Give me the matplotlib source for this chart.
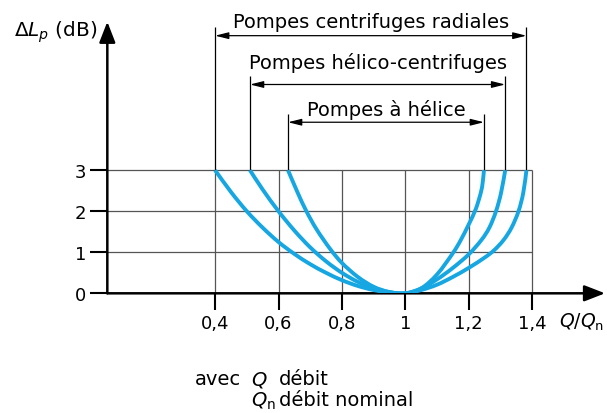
import matplotlib
matplotlib.use("Agg")
import matplotlib.pyplot as plt
from matplotlib.path import Path
from matplotlib.patches import PathPatch

plt.rcParams['font.family'] = ['DejaVu Sans']
plt.rcParams['mathtext.fontset'] = 'dejavusans'

# --- data (x = Q/Qn, y = delta Lp in dB) ---
radial_x = [0.40, 0.45, 0.50, 0.55, 0.60, 0.65, 0.70, 0.75, 0.80, 0.85, 0.90, 0.95, 1.00,
            1.05, 1.10, 1.15, 1.20, 1.25, 1.28, 1.31, 1.335, 1.357, 1.372, 1.382]
radial_y = [3.0, 2.47, 2.0, 1.6, 1.25, 0.96, 0.71, 0.50, 0.32, 0.18, 0.08, 0.02, 0.0,
            0.08, 0.21, 0.40, 0.62, 0.87, 1.05, 1.3, 1.6, 2.0, 2.45, 3.0]

helico_x = [0.51, 0.55, 0.60, 0.65, 0.70, 0.75, 0.80, 0.85, 0.90, 0.95, 1.00,
            1.05, 1.10, 1.15, 1.20, 1.24, 1.265, 1.286, 1.302, 1.315]
helico_y = [3.0, 2.53, 2.0, 1.53, 1.12, 0.78, 0.50, 0.28, 0.125, 0.03, 0.0,
            0.12, 0.34, 0.62, 0.95, 1.3, 1.6, 2.0, 2.45, 3.0]

helice_x = [0.63, 0.66, 0.688, 0.72, 0.763, 0.80, 0.85, 0.90, 0.95, 1.00,
            1.05, 1.10, 1.15, 1.175, 1.20, 1.222, 1.238, 1.244, 1.248]
helice_y = [3.0, 2.46, 2.0, 1.56, 1.08, 0.74, 0.40, 0.16, 0.03, 0.0,
            0.12, 0.46, 0.98, 1.3, 1.68, 2.05, 2.45, 2.7, 3.0]

curves = [(radial_x, radial_y), (helico_x, helico_y), (helice_x, helice_y)]
labels = ["Pompes centrifuges radiales", "Pompes hélico-centrifuges", "Pompes à hélice"]
arrow_y = [6.28, 5.09, 4.17]
label_y = [6.49, 5.50, 4.34]

xticks = [0.4, 0.6, 0.8, 1.0, 1.2, 1.4]
xtick_labels = ["0,4", "0,6", "0,8", "1", "1,2", "1,4"]
yticks = [0, 1, 2, 3]
ytick_labels = ["0", "1", "2", "3"]

blue = '#16a7e2'


def smooth_path(xs, ys):
    # Catmull-Rom style cubic Bezier through the read points
    pts = list(zip(xs, ys))
    n = len(pts)
    verts = [pts[0]]
    codes = [Path.MOVETO]
    for i in range(n - 1):
        p0 = pts[i - 1] if i > 0 else pts[i]
        p1 = pts[i]
        p2 = pts[i + 1]
        p3 = pts[i + 2] if i + 2 < n else pts[i + 1]
        c1 = (p1[0] + (p2[0] - p0[0]) / 6, p1[1] + (p2[1] - p0[1]) / 6)
        c2 = (p2[0] - (p3[0] - p1[0]) / 6, p2[1] - (p3[1] - p1[1]) / 6)
        verts += [c1, c2, p2]
        codes += [Path.CURVE4] * 3
    return Path(verts, codes)


fig = plt.figure(figsize=(6.07, 4.14), dpi=100)
ax = fig.add_axes([0.1768, 0.2891, 0.820, 0.656])
ax.set_xlim(0.06, 1.63)
ax.set_ylim(0, 6.62)
for s in ax.spines.values():
    s.set_visible(False)

# grid
ax.hlines([1, 2, 3], 0.06, 1.4, color='#555555', lw=0.9, zorder=1)
ax.vlines(xticks, 0, 3, color='#555555', lw=0.9, zorder=1)

# axes with arrows
for tip in [(1.0, 0), (0, 1.0)]:
    ax.annotate('', xy=tip, xytext=(0, 0), xycoords='axes fraction',
                arrowprops=dict(arrowstyle='-|>,head_length=0.9,head_width=0.35',
                                color='black', lw=1.8, mutation_scale=14,
                                shrinkA=0, shrinkB=0),
                annotation_clip=False)

ax.set_xticks(xticks)
ax.set_xticklabels(xtick_labels)
ax.set_yticks(yticks)
ax.set_yticklabels(ytick_labels)
ax.tick_params(axis='both', direction='out', length=12, width=1.5, labelsize=13, pad=3)

# curves
for cx, cy in curves:
    ax.add_patch(PathPatch(smooth_path(cx, cy), fill=False, edgecolor=blue,
                           lw=2.8, capstyle='butt', zorder=3))

# brackets
for (cx, cy), lab, ay, ly in zip(curves, labels, arrow_y, label_y):
    x0, x1 = cx[0], cx[-1]
    ax.vlines([x0, x1], 3, ay + 0.21, color='black', lw=0.9, zorder=2)
    ax.annotate('', xy=(x1, ay), xytext=(x0, ay),
                arrowprops=dict(arrowstyle='<|-|>,head_length=0.8,head_width=0.2',
                                color='black', lw=0.9, mutation_scale=10,
                                shrinkA=0, shrinkB=0))
    ax.text((x0 + x1) / 2, ly, lab, ha='center', va='baseline', fontsize=14,
            clip_on=False)

# axis labels
fig.text(97 / 607, 1 - 37 / 414, r'$\Delta\mathit{L}_\mathit{p}$ (dB)', ha='right',
         va='baseline', fontsize=14.5)
fig.text(559 / 607, 1 - 322 / 414, r'$\mathit{Q/Q}_\mathrm{n}$', ha='left', va='center',
         fontsize=13.5)

# footnote
fig.text(195 / 607, 1 - 380 / 414, 'avec', ha='left', va='center', fontsize=14)
fig.text(251 / 607, 1 - 380 / 414, r'$\mathit{Q}$', ha='left', va='center', fontsize=14)
fig.text(279 / 607, 1 - 380 / 414, 'débit', ha='left', va='center', fontsize=14)
fig.text(251 / 607, 1 - 401 / 414, r'$\mathit{Q}_\mathrm{n}$', ha='left', va='center',
         fontsize=14)
fig.text(279 / 607, 1 - 401 / 414, 'débit nominal', ha='left', va='center', fontsize=14)

fig.savefig('out.png', dpi=100)
